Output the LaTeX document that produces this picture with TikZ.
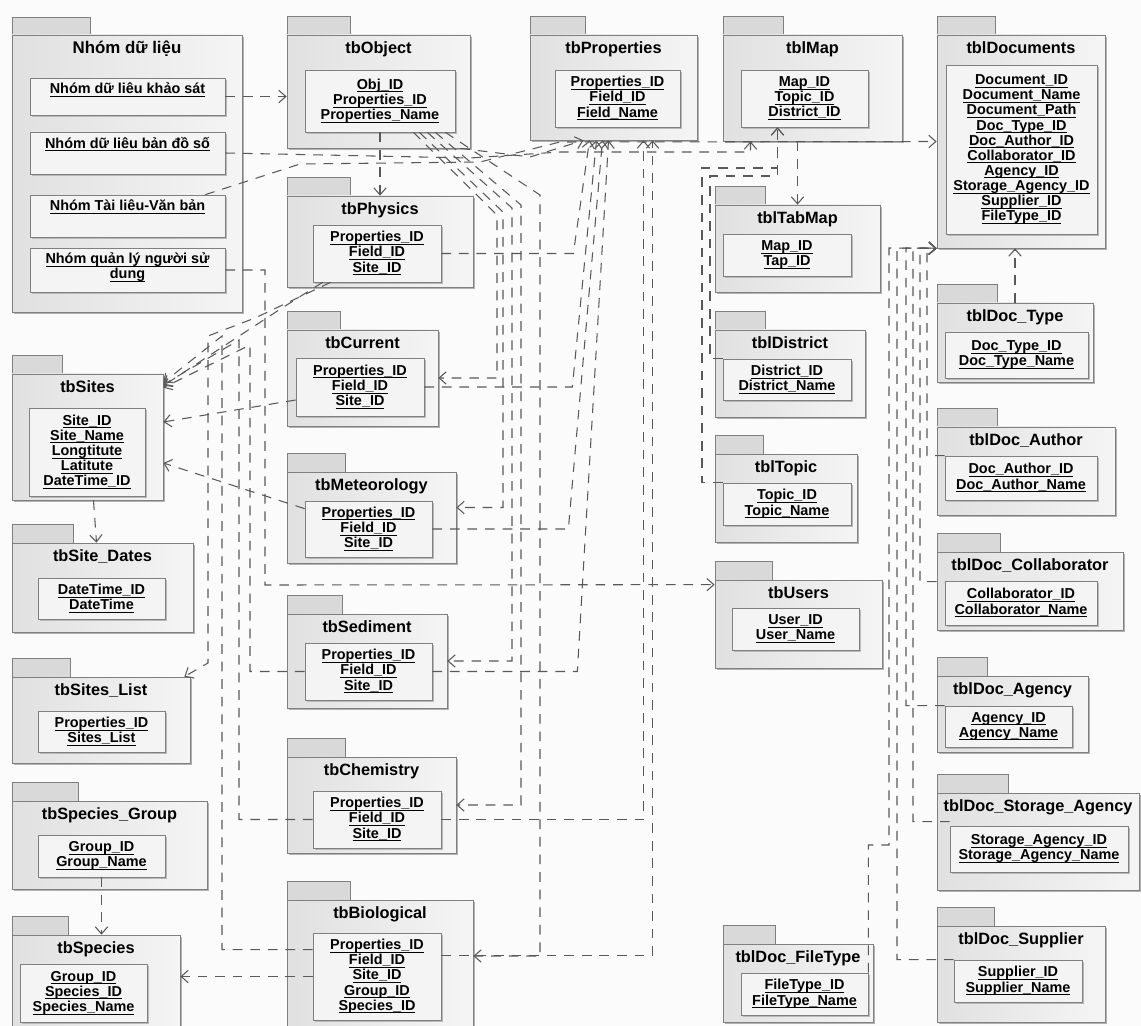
\documentclass[tikz,border=0pt]{standalone}
\usepackage{fontspec}
\setmainfont{Liberation Sans}
\usetikzlibrary{arrows.meta,positioning,fit,calc,shadows}
\setlength{\lineskiplimit}{-20pt}

\newcommand{\fld}[1]{\underline{\raisebox{0pt}[\height][0pt]{#1}}}
% name, body top-left, body bottom-right, tab width, title, box top-left, box bottom-right, fields
\newcommand{\pkg}[8]{%
  \node[pkgtab, fit={($(#2)+(0,-19)$) ($(#2)+(#4,0)$)}] (#1tab) {};
  \node[pkgbody, fit={(#2) (#3)}] (#1) {};
  \node[pkgtitle] at ($(#1.north)+(0,18.5)$) {#5};
  \node[fieldbox, fit={(#6) (#7)}] (#1F) {};
  \node[fieldtext] at (#1F.center) {#8};
}

\begin{document}
\begin{tikzpicture}[x=0.02cm, y=-0.02cm,
    pkgtab/.style={draw=gray, fill=gray!30, inner sep=0pt},
    pkgbody/.style={draw=gray, left color=gray!24, right color=gray!8, inner sep=0pt,
      drop shadow={shadow xshift=1.3pt, shadow yshift=-1.3pt, fill=gray!60, opacity=1}},
    fieldbox/.style={draw=gray, fill=gray!9, inner sep=0pt,
      drop shadow={shadow xshift=1.2pt, shadow yshift=-1.2pt, fill=gray!55, opacity=1}},
    pkgtitle/.style={anchor=base, inner sep=0pt, font=\fontsize{9.3}{11}\selectfont\bfseries},
    fieldtext/.style={align=center, inner sep=0pt, font=\fontsize{8.2}{8.6}\selectfont\bfseries},
    itemtext/.style={fieldtext, anchor=north},
    link/.style={draw=black!65, line width=0.6pt, dash pattern=on 5.5pt off 4.5pt},
    dep/.style={link, ->, >={Straight Barb[length=4pt,width=7pt]}}]

    \useasboundingbox (0,0) rectangle (1141,1026);
    \fill[gray!3] (0,0) rectangle (1141,1026);

    % Nhom du lieu
    \node[pkgtab, fit={(12,17) (90,35)}] (grptab) {};
    \node[pkgbody, fit={(12,35) (242,312)}] (grp) {};
    \node[pkgtitle, font=\fontsize{9.6}{11}\selectfont\bfseries] at ($(grp.north)+(0,18.5)$) {Nhóm dữ liệu};
    \node[fieldbox, fit={(30,78) (225,115)}] (khaosat) {};
    \node[itemtext] at ($(khaosat.north)+(0,5)$) {\fld{Nhóm dữ liêu khảo sát}};
    \node[fieldbox, fit={(30,132) (225,174)}] (bando) {};
    \node[itemtext] at ($(bando.north)+(0,5)$) {\fld{Nhóm dữ liêu bản đồ số}};
    \node[fieldbox, fit={(30,195) (225,237)}] (tailieu) {};
    \node[itemtext] at ($(tailieu.north)+(0,5)$) {\fld{Nhóm Tài liêu-Văn bản}};
    \node[fieldbox, fit={(30,248) (225,292)}] (quanly) {};
    \node[itemtext] at ($(quanly.north)+(0,5)$) {\fld{Nhóm quản lý người sử}\\\fld{dung}};

    % data tables
    \pkg{obj}{287,35}{470,148}{63}{tbObject}{305,70}{455,132}
      {\fld{Obj\_ID}\\\fld{Properties\_ID}\\\fld{Properties\_Name}}
    \pkg{prop}{530,35}{697,140}{55}{tbProperties}{555,70}{680,127}
      {\fld{Properties\_ID}\\\fld{Field\_ID}\\\fld{Field\_Name}}
    \pkg{phys}{287,196}{473,287}{63}{tbPhysics}{313,225}{441,282}
      {\fld{Properties\_ID}\\\fld{Field\_ID}\\\fld{Site\_ID}}
    \pkg{curr}{287,330}{438,426}{53}{tbCurrent}{296,358}{424,416}
      {\fld{Properties\_ID}\\\fld{Field\_ID}\\\fld{Site\_ID}}
    \pkg{meteo}{287,472}{456,563}{58}{tbMeteorology}{305,501}{432,557}
      {\fld{Properties\_ID}\\\fld{Field\_ID}\\\fld{Site\_ID}}
    \pkg{sed}{287,614}{447,708}{55}{tbSediment}{305,643}{432,700}
      {\fld{Properties\_ID}\\\fld{Field\_ID}\\\fld{Site\_ID}}
    \pkg{chem}{287,757}{456,853}{58}{tbChemistry}{313,791}{441,848}
      {\fld{Properties\_ID}\\\fld{Field\_ID}\\\fld{Site\_ID}}
    \pkg{bio}{287,900}{473,1032}{63}{tbBiological}{313,933}{441,1020}
      {\fld{Properties\_ID}\\\fld{Field\_ID}\\\fld{Site\_ID}\\\fld{Group\_ID}\\\fld{Species\_ID}}

    % sites and species
    \pkg{sites}{12,374}{163,500}{50}{tbSites}{29,408}{145,496}
      {\fld{Site\_ID}\\\fld{Site\_Name}\\\fld{Longtitute}\\\fld{Latitute}\\\fld{DateTime\_ID}}
    \pkg{sdates}{12,543}{193,632}{61}{tbSite\_Dates}{38,578}{165,619}
      {\fld{DateTime\_ID}\\\fld{DateTime}}
    \pkg{slist}{12,677}{190,763}{58}{tbSites\_List}{38,711}{165,752}
      {\fld{Properties\_ID}\\\fld{Sites\_List}}
    \pkg{sgroup}{12,801}{207,889}{66}{tbSpecies\_Group}{38,835}{165,877}
      {\fld{Group\_ID}\\\fld{Group\_Name}}
    \pkg{species}{12,935}{180,1032}{56}{tbSpecies}{20,964}{147,1022}
      {\fld{Group\_ID}\\\fld{Species\_ID}\\\fld{Species\_Name}}

    % map tables and users
    \pkg{map}{723,35}{902,141}{60}{tblMap}{741,70}{868,127}
      {\fld{Map\_ID}\\\fld{Topic\_ID}\\\fld{District\_ID}}
    \pkg{tabmap}{715,205}{880,292}{50}{tblTabMap}{723,234}{851,276}
      {\fld{Map\_ID}\\\fld{Tap\_ID}}
    \pkg{dist}{715,330}{865,417}{50}{tblDistrict}{723,359}{851,400}
      {\fld{District\_ID}\\\fld{District\_Name}}
    \pkg{topic}{715,454}{857,542}{48}{tblTopic}{723,483}{851,525}
      {\fld{Topic\_ID}\\\fld{Topic\_Name}}
    \pkg{users}{715,580}{882,668}{57}{tbUsers}{732,608}{859,650}
      {\fld{User\_ID}\\\fld{User\_Name}}
    \pkg{dfile}{723,944}{873,1022}{52}{tblDoc\_FileType}{741,973}{868,1015}
      {\fld{FileType\_ID}\\\fld{FileType\_Name}}

    % document tables
    \pkg{docs}{937,35}{1105,248}{58}{tblDocuments}{946,65}{1097,234}
      {\fld{Document\_ID}\\\fld{Document\_Name}\\\fld{Document\_Path}\\\fld{Doc\_Type\_ID}\\
       \fld{Doc\_Author\_ID}\\\fld{Collaborator\_ID}\\\fld{Agency\_ID}\\\fld{Storage\_Agency\_ID}\\
       \fld{Supplier\_ID}\\\fld{FileType\_ID}}
    \pkg{dtype}{937,303}{1093,382}{60}{tblDoc\_Type}{945,332}{1088,378}
      {\fld{Doc\_Type\_ID}\\\fld{Doc\_Type\_Name}}
    \pkg{dauth}{937,427}{1115,515}{60}{tblDoc\_Author}{945,456}{1097,500}
      {\fld{Doc\_Author\_ID}\\\fld{Doc\_Author\_Name}}
    \pkg{dcollab}{937,552}{1123,630}{63}{tblDoc\_Collaborator}{945,581}{1097,625}
      {\fld{Collaborator\_ID}\\\fld{Collaborator\_Name}}
    \pkg{dagency}{937,676}{1088,752}{50}{tblDoc\_Agency}{945,706}{1072,747}
      {\fld{Agency\_ID}\\\fld{Agency\_Name}}
    \pkg{dstor}{937,793}{1139,890}{71}{tblDoc\_Storage\_Agency}{950,826}{1128,872}
      {\fld{Storage\_Agency\_ID}\\\fld{Storage\_Agency\_Name}}
    \pkg{dsupp}{937,926}{1105,1022}{57}{tblDoc\_Supplier}{954,960}{1082,1002}
      {\fld{Supplier\_ID}\\\fld{Supplier\_Name}}

    % links from the groups
    \draw[dep] (khaosat.east) -- (khaosat.east -| obj.west);
    \draw[dep] (bando.east) -- (470,158) -- (560,152) -| ($(map.south)+(-62,0)$);
    \draw[dep] ($(tailieu.north east)+(-20,0)$) -- (300,164) -- (480,162) -- (560,142) -- (docs.west);
    \draw[dep] (quanly.east) -| (265,585) -- ($(users.north west)+(0,5)$);

    % tbObject to the data tables
    \draw[dep] (objF.south) -- (objF.south |- phys.north);
    \draw[dep] ($(obj.south east)+(-10,0)$) -- (530,157) -- ($(prop.south)+(-30,0)$);
    \draw[dep] ($(objF.south east)+(-42,0)$) -- (497,215) |- (curr.east);
    \draw[dep] ($(objF.south east)+(-36,0)$) -- (503,212) |- ($(meteo.east)+(0,-10)$);
    \draw[dep] ($(objF.south east)+(-28,0)$) -- (512,208) |- (sed.east);
    \draw[dep] ($(objF.south east)+(-20,0)$) -- (521,205) |- (chem.east);
    \draw[dep] ($(objF.south east)+(-10,0)$) -- (540,195) |- ($(bio.east)+(0,-10)$);

    % data tables to tbProperties
    \draw[dep] (physF.east) -- ++(132,0) -- ($(prop.south)+(-24,0)$);
    \draw[dep] (currF.east) -- ++(148,0) -- ($(prop.south)+(-17,0)$);
    \draw[dep] (meteoF.east) -- ++(136,0) -- ($(prop.south)+(-11,0)$);
    \draw[dep] (sedF.east) -- ++(145,0) -- ($(prop.south)+(-5,0)$);
    \draw[dep] (chemF.east) -| ($(prop.south)+(30,0)$);
    \draw[dep] ($(bioF.north east)+(0,23)$) -| ($(prop.south)+(39,0)$);

    % data tables to tbSites
    \draw[dep] ($(physF.south west)+(10,0)$) -- (282,308) -- ($(sites.north east)+(0,12)$);
    \draw[dep] ($(currF.west)+(0,13)$) -- ($(sites.east)+(0,-15)$);
    \draw[dep] ($(meteoF.north west)+(0,8)$) -- ($(sites.east)+(0,26)$);
    \draw[dep] (sedF.west) -| (250,345) -- ($(sites.north east)+(0,14)$);
    \draw[dep] (chemF.west) -| (239,340) -- ($(sites.north east)+(0,11)$);
    \draw[dep] ($(bioF.north west)+(0,17)$) -| (222,336) -- ($(sites.north east)+(0,9)$);
    \draw[dep] ($(physF.south west)+(18,0)$) -- (255,318) -- (208,336) -- (208,663) -- ($(slist.north east)+(-6,0)$);

    % sites and species
    \draw[dep] ($(sites.south)+(6,0)$) -- ($(sdates.north)+(-6,0)$);
    \draw[dep] (sgroupF.south) -- (sgroupF.south |- species.north);
    \draw[dep] (bioF.west) -- (bioF.west -| species.east);

    % map tables
    \draw[dep] (tabmap.north |- map.south) -- (tabmap.north);
    \draw[dep] (topicF.north west) -| (702,168) -| ($(mapF.south)+(-27,0)$);
    \draw[dep] (distF.north west) -| (710,176) -| ($(mapF.south)+(-27,0)$);

    % document tables
    \draw[dep] (dtype.north) -- (dtype.north |- docs.south);
    \draw[dep] (dauthF.north west) -| (927,248) -- (docs.south west);
    \draw[dep] ($(dcollab.north west)+(0,30)$) -| (920,248) -- (docs.south west);
    \draw[dep] (dagencyF.north west) -| (906,248) -- (docs.south west);
    \draw[dep] ($(dstorF.north west)+(0,-4)$) -| (913,248) -- (docs.south west);
    \draw[dep] (dsuppF.north west) -| (897,248) -- (docs.south west);
    \draw[dep] (dfileF.north east) |- (889,845) -- (889,248) -- (docs.south west);
\end{tikzpicture}
\end{document}
